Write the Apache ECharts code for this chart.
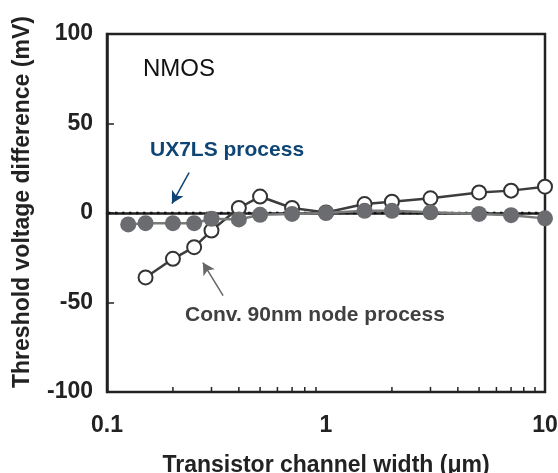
<!DOCTYPE html>
<html>
<head>
<meta charset="utf-8">
<script src="https://cdn.jsdelivr.net/npm/echarts@6/dist/echarts.min.js"></script>
<style>
html,body{margin:0;padding:0;background:#fff;}
#chart{width:558px;height:473px;}
</style>
</head>
<body>
<div id="chart"></div>
<script>
// ---- data ----
var widthsUX7LS = [0.125, 0.15, 0.2, 0.25, 0.3, 0.4, 0.5, 0.7, 1, 1.5, 2, 3, 5, 7, 10];
var ux7lsValues = [-6.4, -5.7, -5.7, -5.7, -3.2, -3.6, -1.0, -0.5, 0, 1.2, 1.2, 0.4, -0.5, -1.2, -3.0];
var widthsConv = [0.15, 0.2, 0.25, 0.3, 0.4, 0.5, 0.7, 1, 1.5, 2, 3, 5, 7, 10];
var convValues = [-36, -25.6, -19.1, -9.8, 2.8, 9.2, 2.8, 0.3, 5.0, 6.3, 8.2, 11.5, 12.5, 14.7];
var xTickLabels = ['0.1', '1', '10'];
var yTickValues = [-100, -50, 0, 50, 100];
var xMinorTicks = [0.2, 0.3, 0.4, 0.5, 0.6, 0.7, 0.8, 0.9, 2, 3, 4, 5, 6, 7, 8, 9];
var zeroRef = [[0.1, 0, 10]];
// annotation arrows: [from, to] in data units
var arrowUX7LS = [[0.237, 22.6], [0.198, 5.3]];
var arrowConv = [[0.339, -46.1], [0.274, -27.7]];

var FONT = '"Liberation Sans", Arial, sans-serif';

function zip(xs, ys) { return xs.map(function (x, i) { return [x, ys[i]]; }); }

var chart = echarts.init(document.getElementById('chart'), null, { renderer: 'canvas' });
chart.setOption({
  animation: false,
  backgroundColor: '#fff',
  grid: { left: 107, right: 13, top: 34, bottom: 81, show: true, borderColor: '#222', borderWidth: 2.5,
          containLabel: false, outerBoundsMode: 'none' },
  xAxis: {
    type: 'log', logBase: 10, min: 0.1, max: 10,
    name: 'Transistor channel width (μm)', nameLocation: 'middle', nameGap: 62,
    nameTextStyle: { fontFamily: FONT, fontWeight: 'bold', fontSize: 23, color: '#222' },
    axisLine: { lineStyle: { color: '#222', width: 2.5 } },
    axisTick: { inside: true, length: 7, lineStyle: { color: '#222', width: 1.5 } },
    axisLabel: {
      fontFamily: FONT, fontWeight: 'bold', fontSize: 23, color: '#222', margin: 22,
      formatter: function (v) {
        var i = Math.round(Math.log10(v)) + 1;
        return xTickLabels[i] !== undefined ? xTickLabels[i] : '';
      }
    },
    splitLine: { show: false }
  },
  yAxis: {
    type: 'value', min: -100, max: 100, interval: 50,
    axisLine: { show: true, lineStyle: { color: '#222', width: 2.5 } },
    axisTick: { show: true, inside: true, length: 7, lineStyle: { color: '#222', width: 1.5 } },
    axisLabel: {
      fontFamily: FONT, fontWeight: 'bold', fontSize: 23, color: '#222', margin: 14,
      formatter: function (v) { return yTickValues.indexOf(v) >= 0 ? String(v) : ''; }
    },
    splitLine: { show: false }
  },
  graphic: [
    { type: 'text', left: 143, top: 57, style: { text: 'NMOS', font: 'normal 24px ' + FONT, fill: '#111' } },
    { type: 'text', left: 150, top: 140, style: { text: 'UX7LS process', font: 'bold 21px ' + FONT, fill: '#0e4574' } },
    { type: 'text', left: 185, top: 305, style: { text: 'Conv. 90nm node process', font: 'bold 21px ' + FONT, fill: '#404040' } },
    { type: 'text', x: 11, y: 388, rotation: Math.PI / 2,
      style: { text: 'Threshold voltage difference (mV)', font: 'bold 23px ' + FONT, fill: '#222', align: 'left', verticalAlign: 'top' } }
  ],
  series: [
    {
      type: 'custom', name: 'minorTicks', silent: true, z: 1,
      data: xMinorTicks.map(function (v) { return [v, -100]; }),
      renderItem: function (params, api) {
        var p = api.coord([api.value(0), api.value(1)]);
        return { type: 'line', shape: { x1: p[0], y1: p[1], x2: p[0], y2: p[1] - 5 },
          style: { stroke: '#222', lineWidth: 1.5 } };
      }
    },
    {
      type: 'custom', name: 'zeroLine', z: 2, silent: true,
      data: zeroRef,
      renderItem: function (params, api) {
        var a = api.coord([api.value(0), api.value(1)]);
        var b = api.coord([api.value(2), api.value(1)]);
        var children = [];
        for (var x = a[0] + 1; x < b[0] - 1; x += 7) {
          children.push({ type: 'rect', shape: { x: x, y: a[1] - 1.25, width: 2.5, height: 2.5 },
            style: { fill: '#111' } });
        }
        return { type: 'group', children: children };
      }
    },
    {
      type: 'line', name: 'Conv. 90nm node process', z: 3,
      data: zip(widthsConv, convValues),
      symbol: 'circle', symbolSize: 14,
      lineStyle: { color: '#3d3d3d', width: 2.5 },
      itemStyle: { color: '#fff', borderColor: '#333', borderWidth: 2 },
      markLine: {
        silent: true, symbol: ['none', 'arrow'], symbolSize: [10, 12],
        label: { show: false },
        lineStyle: { color: '#666', width: 1.5, type: 'solid' },
        data: [[{ coord: arrowConv[0] }, { coord: arrowConv[1] }]]
      }
    },
    {
      type: 'line', name: 'UX7LS process', z: 4,
      data: zip(widthsUX7LS, ux7lsValues),
      symbol: 'circle', symbolSize: 16,
      lineStyle: { color: '#7a7a7c', width: 2.5 },
      itemStyle: { color: '#6b6c70', borderWidth: 0 }
    },
    {
      type: 'line', name: 'arrowUX', z: 5, data: [],
      markLine: {
        silent: true, symbol: ['none', 'arrow'], symbolSize: [10, 12],
        label: { show: false },
        lineStyle: { color: '#0e4574', width: 1.5, type: 'solid' },
        data: [[{ coord: arrowUX7LS[0] }, { coord: arrowUX7LS[1] }]]
      }
    }
  ]
});
</script>
</body>
</html>
